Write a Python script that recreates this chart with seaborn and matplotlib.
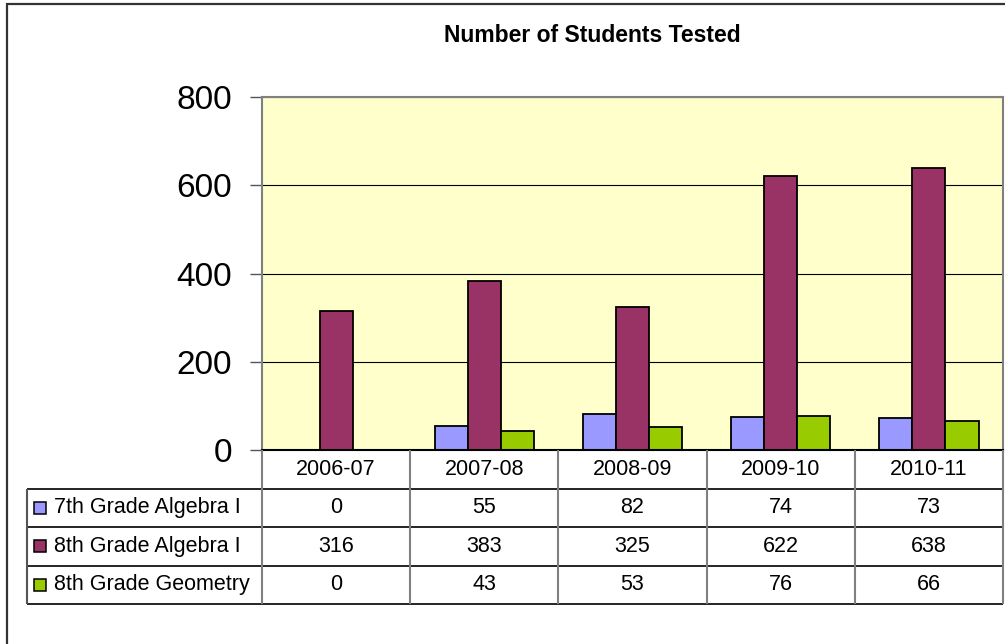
import matplotlib
matplotlib.use("Agg")
import matplotlib.pyplot as plt
import seaborn as sns
import pandas as pd
from matplotlib.patches import Rectangle

# ---- data ----
years = ["2006-07", "2007-08", "2008-09", "2009-10", "2010-11"]
series = ["7th Grade Algebra I", "8th Grade Algebra I", "8th Grade Geometry"]
grade7_algebra = [0, 55, 82, 74, 73]
grade8_algebra = [316, 383, 325, 622, 638]
grade8_geometry = [0, 43, 53, 76, 66]
colors = ["#9999FF", "#993366", "#99CC00"]
y_ticks = [0, 200, 400, 600, 800]
title = "Number of Students Tested"

values = [grade7_algebra, grade8_algebra, grade8_geometry]
df = pd.DataFrame(
    [(y, s, v) for s, vals in zip(series, values) for y, v in zip(years, vals)],
    columns=["Year", "Series", "Students"],
)

sns.set_theme(style="white")
plt.rcParams["font.family"] = ["Liberation Sans", "DejaVu Sans"]

W, H = 1005, 644
fig = plt.figure(figsize=(W / 100, H / 100), dpi=100)
fig.patch.set_facecolor("white")


def fx(px):
    return px / W


def fy(py):
    return 1 - py / H


# outer chart frame
fig.add_artist(Rectangle((fx(7), fy(650)), fx(1010) - fx(7), fy(4) - fy(650),
                         transform=fig.transFigure, fill=False,
                         edgecolor="#333333", lw=1.6))

# ---- plot area ----
pl, pr, pt, pb = 262, 1003, 97, 450
ax = fig.add_axes([fx(pl), fy(pb), fx(pr) - fx(pl), fy(pt) - fy(pb)])
ax.set_facecolor("#FFFFCC")
sns.barplot(data=df, x="Year", y="Students", hue="Series", order=years,
            hue_order=series, palette=colors, width=0.67, edgecolor="black",
            linewidth=1.3, saturation=1, legend=False, ax=ax)
ax.set_xlim(-0.5, len(years) - 0.5)
ax.set_ylim(y_ticks[0], y_ticks[-1])
ax.set_yticks(y_ticks)
ax.set_yticklabels([str(t) for t in y_ticks], fontsize=24)
ax.set_xticks([])
ax.set_xlabel("")
ax.set_ylabel("")
ax.yaxis.grid(True, color="black", lw=0.8)
ax.set_axisbelow(True)
ax.tick_params(axis="y", which="major", left=True, length=8.6, width=1,
               color="#555555", pad=13, labelcolor="black")
for side in ["top", "right", "left"]:
    ax.spines[side].set_color("#808080")
    ax.spines[side].set_linewidth(1.5)
ax.spines["bottom"].set_color("black")
ax.spines["bottom"].set_linewidth(1.5)

fig.text(fx(592), fy(35), title, ha="center", va="center",
         fontsize=16.5, fontweight="bold", color="black")

# ---- data table ----
tl, tr, tt, tb = 27, 1003, 450, 604
cat_w = (pr - pl) / len(years)
x_min = -0.5 - (pl - tl) / cat_w
tax = fig.add_axes([fx(tl), fy(tb), fx(tr) - fx(tl), fy(tt) - fy(tb)])
tax.set_xlim(x_min, len(years) - 0.5)
n_rows = len(series) + 1
tax.set_ylim(n_rows, 0)
tax.axis("off")

# horizontal rules
for r in range(1, n_rows + 1):
    tax.plot([x_min, len(years) - 0.5], [r, r], color="black", lw=1.2,
             clip_on=False, solid_capstyle="butt")
# vertical rules
for i in range(len(years) + 1):
    tax.plot([i - 0.5, i - 0.5], [0, n_rows], color="#808080", lw=1.5,
             clip_on=False, solid_capstyle="butt")
tax.plot([x_min, x_min], [1, n_rows], color="#555555", lw=1.5,
         clip_on=False, solid_capstyle="butt")

for i, yr in enumerate(years):
    tax.text(i, 0.5, yr, ha="center", va="center", fontsize=15.5, color="black")
    for r, vals in enumerate(values):
        tax.text(i, r + 1.5, str(vals[i]), ha="center", va="center",
                 fontsize=15.5, color="black")

sq_x = x_min + (40 - tl) / cat_w
txt_x = x_min + (54 - tl) / cat_w
for r, (name, c) in enumerate(zip(series, colors)):
    tax.plot([sq_x], [r + 1.5], marker="s", markersize=9,
             markerfacecolor=c, markeredgecolor="black", markeredgewidth=1.1,
             clip_on=False)
    tax.text(txt_x, r + 1.5, name, ha="left", va="center", fontsize=15.5,
             color="black")

fig.savefig("out.png", dpi=100, facecolor="white")
